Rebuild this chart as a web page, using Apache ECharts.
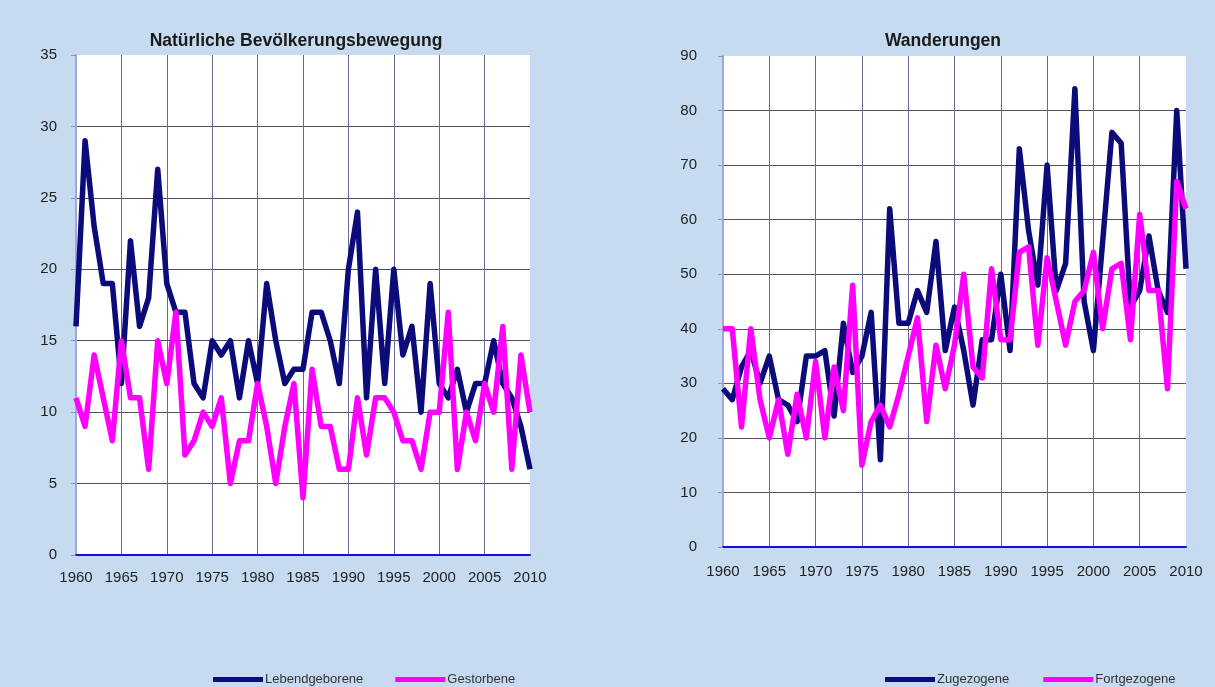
<!DOCTYPE html>
<html>
<head>
<meta charset="utf-8">
<script src="https://cdn.jsdelivr.net/npm/echarts@6/dist/echarts.min.js"></script>
<style>
  html, body { margin: 0; padding: 0; background: #c6dbf0; }
  #chart { width: 1215px; height: 687px; }
</style>
</head>
<body>
<div id="chart"></div>
<script>
// Jahre 1960–2010
const years = [1960,1961,1962,1963,1964,1965,1966,1967,1968,1969,
               1970,1971,1972,1973,1974,1975,1976,1977,1978,1979,
               1980,1981,1982,1983,1984,1985,1986,1987,1988,1989,
               1990,1991,1992,1993,1994,1995,1996,1997,1998,1999,
               2000,2001,2002,2003,2004,2005,2006,2007,2008,2009,2010];

// Natürliche Bevölkerungsbewegung
const lebendgeborene = [16,29,23,19,19,12,22,16,18,27,
                        19,17,17,12,11,15,14,15,11,15,
                        12,19,15,12,13,13,17,17,15,12,
                        20,24,11,20,12,20,14,16,10,19,
                        12,11,13,10,12,12,15,12,11,9,6];
const gestorbene = [11,9,14,11,8,15,11,11,6,15,
                    12,17,7,8,10,9,11,5,8,8,
                    12,9,5,9,12,4,13,9,9,6,
                    6,11,7,11,11,10,8,8,6,10,
                    10,17,6,10,8,12,10,16,6,14,10];

// Wanderungen
const zugezogene = [29,27,33,36,30,35,27,26,23,35,
                    35,36,24,41,32,35,43,16,62,41,
                    41,47,43,56,36,44,36,26,38,38,
                    50,36,73,58,48,70,47,52,84,45,
                    36,56,76,74,44,47,57,47,43,80,51];
const fortgezogene = [40,40,22,40,27,20,27,17,28,20,
                      34,20,33,25,48,15,23,26,22,28,
                      35,42,23,37,29,37,50,33,31,51,
                      38,38,54,55,37,53,45,37,45,47,
                      54,40,51,52,38,61,47,47,29,67,62];

const leftTicks = { min: 0, max: 35, interval: 5 };
const rightTicks = { min: 0, max: 90, interval: 10 };

const NAVY = '#0b0b7a';
const PINK = '#ff00ff';
const FONT = '"Liberation Sans", Arial, sans-serif';

function pairs(values) {
  return years.map((y, i) => [y, values[i]]);
}

function gridLine(color) {
  return { show: true, showMinLine: false, showMaxLine: false,
           lineStyle: { color, width: 1 } };
}

function xAxis(gridIndex, labelMargin) {
  return {
    type: 'value', gridIndex, min: 1960, max: 2010, interval: 5,
    axisLine: { show: true, lineStyle: { color: '#1010e0', width: 2 } },
    axisTick: { show: false },
    splitLine: gridLine('#6a6a98'),
    axisLabel: { formatter: v => String(v), color: '#222', fontSize: 15,
                 fontFamily: FONT, margin: labelMargin }
  };
}

function yAxis(gridIndex, ticks, labelMargin) {
  return {
    type: 'value', gridIndex, min: ticks.min, max: ticks.max, interval: ticks.interval,
    axisLine: { show: true, lineStyle: { color: '#9ea8dc', width: 2 } },
    axisTick: { show: true, length: 5, lineStyle: { color: '#8a94c4' } },
    splitLine: gridLine('#50506a'),
    axisLabel: { color: '#222', fontSize: 15, fontFamily: FONT, margin: labelMargin }
  };
}

function line(name, values, color, idx) {
  return {
    name, type: 'line', xAxisIndex: idx, yAxisIndex: idx,
    data: pairs(values), showSymbol: false, symbol: 'none',
    lineStyle: { color, width: 5.5, join: 'round' }, itemStyle: { color },
    animation: false
  };
}

const chart = echarts.init(document.getElementById('chart'));
chart.setOption({
  backgroundColor: '#c6dbf0',
  animation: false,
  title: [
    { text: 'Natürliche Bevölkerungsbewegung', left: 291, top: 27, textAlign: 'center',
      textStyle: { fontSize: 17.5, fontWeight: 'bold', color: '#1a1a1a', fontFamily: FONT } },
    { text: 'Wanderungen', left: 938, top: 27, textAlign: 'center',
      textStyle: { fontSize: 17.5, fontWeight: 'bold', color: '#1a1a1a', fontFamily: FONT } }
  ],
  legend: [
    { data: ['Lebendgeborene', 'Gestorbene'], left: 208, top: 668, icon: 'rect',
      itemWidth: 50, itemHeight: 5, itemGap: 32,
      textStyle: { fontSize: 13, color: '#333', fontFamily: FONT, padding: [0, 0, 0, -3] } },
    { data: ['Zugezogene', 'Fortgezogene'], left: 880, top: 668, icon: 'rect',
      itemWidth: 50, itemHeight: 5, itemGap: 34,
      textStyle: { fontSize: 13, color: '#333', fontFamily: FONT, padding: [0, 0, 0, -3] } }
  ],
  grid: [
    { left: 76, right: 685, top: 55, bottom: 132, show: true, backgroundColor: '#ffffff', borderWidth: 0 },
    { left: 723, right: 29, top: 56, bottom: 140, show: true, backgroundColor: '#ffffff', borderWidth: 0 }
  ],
  xAxis: [xAxis(0, 15), xAxis(1, 17)],
  yAxis: [yAxis(0, leftTicks, 19), yAxis(1, rightTicks, 26)],
  series: [
    line('Lebendgeborene', lebendgeborene, NAVY, 0),
    line('Gestorbene', gestorbene, PINK, 0),
    line('Zugezogene', zugezogene, NAVY, 1),
    line('Fortgezogene', fortgezogene, PINK, 1)
  ]
});
</script>
</body>
</html>
